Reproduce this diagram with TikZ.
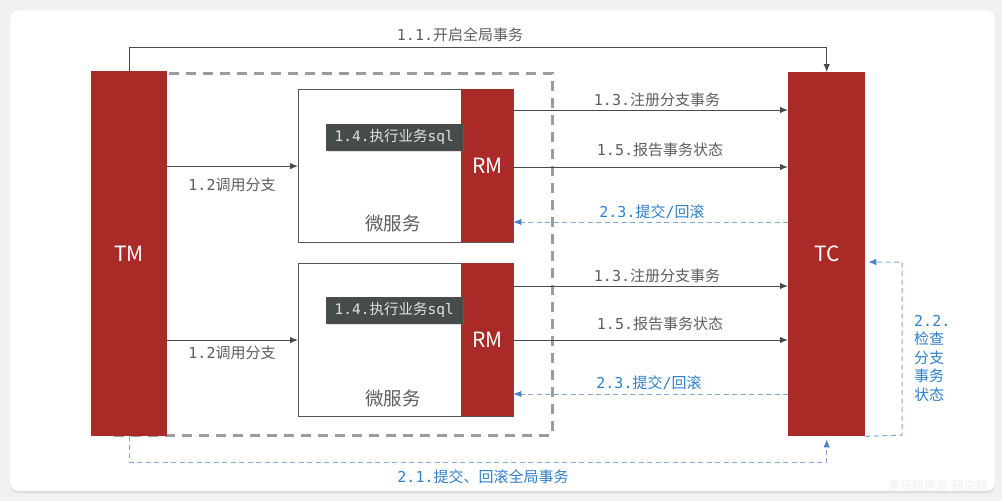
\documentclass[tikz,border=0pt]{standalone}
\usepackage{fontspec}
\setmainfont{Noto Sans CJK SC}
\newfontfamily\monof{DejaVu Sans Mono}
\usetikzlibrary{arrows.meta,shadows,calc}
\definecolor{tmred}{HTML}{A92A27}
\definecolor{linegray}{HTML}{4A4A4A}
\definecolor{labelgray}{HTML}{5E5E5E}
\definecolor{labelblue}{HTML}{2F80C8}
\definecolor{blueline}{HTML}{7DA7D9}
\definecolor{blueTip}{HTML}{4A7FC0}
\definecolor{boxgray}{HTML}{555555}
\definecolor{sqlgray}{HTML}{464C4C}
\definecolor{sqltext}{HTML}{E2E2E2}
\definecolor{groupgray}{HTML}{9C9C9C}
\definecolor{bgc}{HTML}{F1F1F1}
\definecolor{wmark}{HTML}{EEEEEE}
\tikzset{
 redbox/.style={fill=tmred, draw=none, text=white, font=\fontsize{21}{24}\selectfont, inner sep=0pt, anchor=north west},
 msbox/.style={draw=boxgray, line width=1.2pt, fill=white, inner sep=0pt, anchor=north west},
 sqlbox/.style={fill=sqlgray, draw=black!70, line width=0.6pt, text=sqltext, inner sep=0pt, anchor=north west,
   drop shadow={shadow xshift=1.5pt, shadow yshift=-1.5pt, opacity=0.25},
   font=\fontsize{14.5}{17}\selectfont},
 groupbox/.style={draw=groupgray, line width=2.6pt, dash pattern=on 10pt off 7pt, inner sep=0pt, anchor=north west},
 solidarr/.style={draw=linegray, line width=1pt, -{Latex[length=8pt,width=6.5pt]}},
 bluearr/.style={draw=blueline, line width=1pt, dash pattern=on 5pt off 3.5pt, -{Latex[length=8pt,width=6.5pt,color=blueTip]}},
 lbl/.style={text=labelgray, font=\fontsize{15}{18}\selectfont, inner sep=0pt},
 blbl/.style={text=labelblue, font=\fontsize{15}{18}\selectfont, inner sep=0pt},
 svc/.style={text=labelgray, font=\fontsize{18.5}{22}\selectfont, inner sep=0pt},
}
\begin{document}
\begin{tikzpicture}[x=1pt,y=-1pt]
\useasboundingbox (0,0) rectangle (1002,501);
\fill[bgc] (0,0) rectangle (1002,501);
\path[fill=white, draw=black!8, rounded corners=8pt, drop shadow={shadow xshift=0pt, shadow yshift=-2pt, opacity=0.18}] (10,10) rectangle (995,491);
\node[text=wmark, font=\fontsize{12}{14}\selectfont, inner sep=0pt] (wm) at (938,486) {黑马程序员-研究院};

% group frame
\node[groupbox, minimum width=438pt, minimum height=362pt] (grp) at (113,72) {};

% microservices
\node[msbox, minimum width=215pt, minimum height=153pt] (ms1) at (298,89) {};
\node[redbox, minimum width=52pt, minimum height=153pt] (rm1) at (461,89) {RM};
\node[sqlbox, minimum width=136pt, minimum height=26pt] (sql1) at (326,124) {{\monof 1.4.}执行业务{\monof sql}};
\node[svc] (svc1) at (393,223) {微服务};

\node[msbox, minimum width=215pt, minimum height=153pt] (ms2) at (298,263) {};
\node[redbox, minimum width=52pt, minimum height=153pt] (rm2) at (461,263) {RM};
\node[sqlbox, minimum width=136pt, minimum height=26pt] (sql2) at (326,297) {{\monof 1.4.}执行业务{\monof sql}};
\node[svc] (svc2) at (393,398) {微服务};

% TM / TC
\node[redbox, minimum width=76pt, minimum height=365pt] (TM) at (91,71) {TM};
\node[redbox, minimum width=77pt, minimum height=364pt] (TC) at (788,72) {TC};

% 1.1
\draw[solidarr] (TM.north) -- ++(0,-24) -| (TC.north);
\node[lbl] (l11) at (460,35) {{\monof 1.1.}开启全局事务};

% 1.2
\draw[solidarr] (TM.east |- ms1.west) -- (ms1.west);
\node[lbl] (l12a) at (232,185) {{\monof 1.2}调用分支};
\draw[solidarr] (TM.east |- ms2.west) -- (ms2.west);
\node[lbl] (l12b) at (232,353) {{\monof 1.2}调用分支};

% RM1 <-> TC
\draw[solidarr] (rm1.east |- {(0,110)}) -- (TC.west |- {(0,110)});
\node[lbl] (l13a) at (657,100) {{\monof 1.3.}注册分支事务};
\draw[solidarr] (rm1.east |- {(0,167)}) -- (TC.west |- {(0,167)});
\node[lbl] (l15a) at (660,150) {{\monof 1.5.}报告事务状态};
\draw[bluearr] (TC.west |- {(0,222)}) -- (rm1.east |- {(0,222)});
\node[blbl] (l23a) at (652,212) {{\monof 2.3.}提交{\monof /}回滚};

% RM2 <-> TC
\draw[solidarr] (rm2.east |- {(0,286)}) -- (TC.west |- {(0,286)});
\node[lbl] (l13b) at (657,276) {{\monof 1.3.}注册分支事务};
\draw[solidarr] (rm2.east |- {(0,340)}) -- (TC.west |- {(0,340)});
\node[lbl] (l15b) at (660,324) {{\monof 1.5.}报告事务状态};
\draw[bluearr] (TC.west |- {(0,394)}) -- (rm2.east |- {(0,394)});
\node[blbl] (l23b) at (649,383) {{\monof 2.3.}提交{\monof /}回滚};

% 2.1
\draw[bluearr, shorten >=3pt] (TM.south) -- ++(0,26) -| (TC.south);
\node[blbl] (l21) at (483,477) {{\monof 2.1.}提交、回滚全局事务};

% 2.2
\coordinate (c22) at (902,435);
\draw[bluearr, shorten >=3pt] (TC.south east) -- (c22) |- (TC.east |- {(0,262)});
\node[blbl, align=left, anchor=north west, font=\fontsize{15}{18.5}\selectfont] (l22) at (914,315) {{\monof 2.2.}\\检查\\分支\\事务\\状态};
\end{tikzpicture}
\end{document}
